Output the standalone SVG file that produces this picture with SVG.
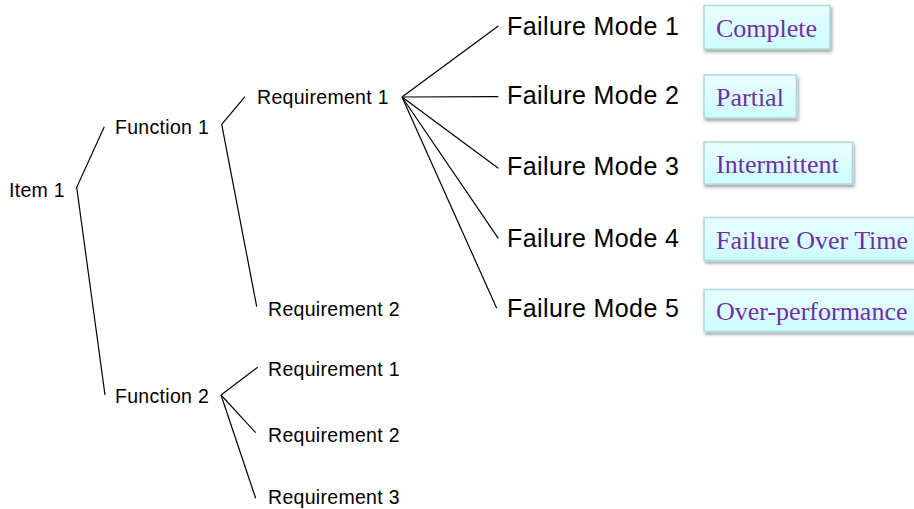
<svg xmlns="http://www.w3.org/2000/svg" width="914" height="509" viewBox="0 0 914 509">
<defs>
<linearGradient id="boxfill" x1="0" y1="0" x2="0" y2="1">
<stop offset="0" stop-color="#EAFFFF"/>
<stop offset="1" stop-color="#CCFDFD"/>
</linearGradient>
<filter id="shadow" x="-10%" y="-20%" width="130%" height="160%">
<feDropShadow dx="1.5" dy="2.5" stdDeviation="1.5" flood-color="#000" flood-opacity="0.35"/>
</filter>
</defs>
<style>
.lbl{font-family:"Liberation Sans",Arial,sans-serif;font-size:19.5px;letter-spacing:0.3px;fill:#000}
.fm{font-family:"Liberation Sans",Arial,sans-serif;font-size:25px;letter-spacing:0.4px;fill:#000}
.tag{font-family:"Liberation Serif","Times New Roman",serif;font-size:26px;fill:#7030A0}
.box{fill:url(#boxfill);stroke:#A9D9DD;stroke-width:1.5;filter:url(#shadow)}
.conn line,.conn polyline{stroke:#000;stroke-width:1.2;fill:none}
</style>
<rect width="914" height="509" fill="#fff"/>
<g class="conn" id="connectors">
<polyline points="104.3,126.7 76.7,187.3 105,395"/>
<polyline points="245,96.7 221.7,124.3 256.7,306.7"/>
<line x1="221" y1="395" x2="257.7" y2="367.3"/>
<line x1="221" y1="395" x2="255.7" y2="432.7"/>
<line x1="221" y1="395" x2="255.7" y2="498.3"/>
<line x1="402" y1="97" x2="498.3" y2="26"/>
<line x1="402" y1="97" x2="498.3" y2="96.7"/>
<line x1="402" y1="97" x2="498.3" y2="168.3"/>
<line x1="402" y1="97" x2="498.3" y2="238.3"/>
<line x1="402" y1="97" x2="496.7" y2="308.3"/>
</g>
<g id="item1"><text class="lbl" x="9" y="197">Item 1</text></g>
<g id="function1"><text class="lbl" x="115" y="134">Function 1</text></g>
<g id="function2"><text class="lbl" x="115" y="403">Function 2</text></g>
<g id="f1-req1"><text class="lbl" x="257" y="104">Requirement 1</text></g>
<g id="f1-req2"><text class="lbl" x="268" y="316">Requirement 2</text></g>
<g id="f2-req1"><text class="lbl" x="268" y="376">Requirement 1</text></g>
<g id="f2-req2"><text class="lbl" x="268" y="442">Requirement 2</text></g>
<g id="f2-req3"><text class="lbl" x="268" y="504">Requirement 3</text></g>
<g id="fm1"><text class="fm" x="507" y="35">Failure Mode 1</text></g>
<g id="fm2"><text class="fm" x="507" y="104">Failure Mode 2</text></g>
<g id="fm3"><text class="fm" x="507" y="175">Failure Mode 3</text></g>
<g id="fm4"><text class="fm" x="507" y="246.5">Failure Mode 4</text></g>
<g id="fm5"><text class="fm" x="507" y="317">Failure Mode 5</text></g>
<g id="tag-complete"><rect class="box" x="704" y="5.5" width="126" height="43.5"/><text class="tag" x="716" y="37">Complete</text></g>
<g id="tag-partial"><rect class="box" x="704" y="75" width="92.5" height="43"/><text class="tag" x="716" y="105.5">Partial</text></g>
<g id="tag-intermittent"><rect class="box" x="704" y="142" width="148.5" height="42"/><text class="tag" x="716" y="172.5">Intermittent</text></g>
<g id="tag-overtime"><rect class="box" x="704" y="217.5" width="220" height="43"/><text class="tag" x="716" y="248.5">Failure Over Time</text></g>
<g id="tag-overperf"><rect class="box" x="704" y="289.5" width="220" height="42"/><text class="tag" x="716" y="320">Over-performance</text></g>
</svg>
